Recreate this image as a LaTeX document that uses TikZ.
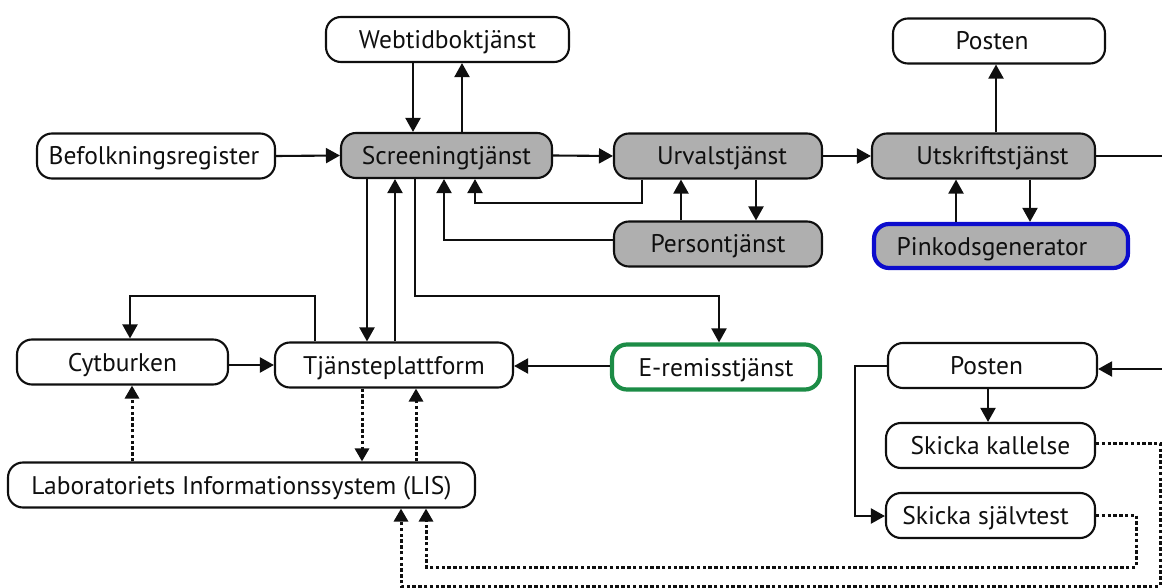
\documentclass[tikz,border=0pt]{standalone}
\usepackage{fontspec}
\setmainfont{PT Sans}
\usetikzlibrary{arrows.meta}

\definecolor{svcgray}{RGB}{175,175,175}
\definecolor{pinblue}{RGB}{12,12,205}
\definecolor{remgreen}{RGB}{28,140,70}
\definecolor{ink}{RGB}{15,15,15}

\tikzset{
  box/.style={draw=ink, line width=2.1pt, rounded corners=15pt,
    minimum height=45pt, inner sep=0pt, text=ink,
    text height=20pt, text depth=2pt,
    font=\fontsize{25.5}{28}\selectfont},
  svc/.style={box, fill=svcgray},
  link/.style={draw=ink, line width=2.1pt,
    -{Triangle[length=14pt,width=15pt]}},
  plain/.style={draw=ink, line width=2.1pt},
  lablink/.style={link, line width=3pt, dash pattern=on 3.4pt off 2.4pt,
    -{Triangle[length=13pt,width=14pt]}},
}

\begin{document}
\begin{tikzpicture}[x=1pt, y=-1pt]
  \useasboundingbox (0,0) rectangle (1162,588);

  % --- top row: screening chain ---
  \node[box, minimum width=243pt] (web)  at (447.5,39.5) {Webtidboktjänst};
  \node[box, minimum width=212pt] (postT) at (999,41) {\hspace*{-14pt}Posten};
  \node[box, minimum width=238pt] (bef)  at (156,156) {\hspace*{-4pt}Befolkningsregister};
  \node[svc, minimum width=211pt] (scr)  at (446.5,155.5) {Screeningtjänst};
  \node[svc, minimum width=208pt] (urv)  at (718,156) {\hspace*{8pt}Urvalstjänst};
  \node[svc, minimum width=223pt] (utsk) at (983.5,156) {\hspace*{18pt}Utskriftstjänst};
  \node[svc, minimum width=208pt] (pers) at (718,244) {Persontjänst};
  \node[svc, draw=pinblue, line width=4.2pt, minimum width=254pt, minimum height=44pt]
       (pink) at (1001,246) {\hspace*{-18pt}Pinkodsgenerator};

  % --- middle row ---
  \node[box, minimum width=211pt] (cyt)  at (122.5,362) {Cytburken};
  \node[box, minimum width=238pt] (tja)  at (394,365) {Tjänsteplattform};
  \node[box, draw=remgreen, line width=4.2pt, minimum width=208pt, minimum height=45pt]
       (erem) at (716,367) {E-remisstjänst};
  \node[box, minimum width=209pt] (postL) at (992.5,365.5) {\hspace*{-12pt}Posten};
  \node[box, minimum width=209pt] (kall) at (990.5,445.5) {Skicka kallelse};
  \node[box, minimum width=209pt] (selv) at (990.5,515.5) {\hspace*{-10pt}Skicka självtest};
  \node[box, minimum width=467pt] (lis)  at (241.5,485) {Laboratoriets Informationssystem (LIS)};

  % free ends at the right margin
  \coordinate (outR) at (1162,156);
  \coordinate (inR)  at (1162,369);

  % --- top row connectors ---
  \draw[link] (web.south -| 413,0) -- (scr.north -| 413,0);
  \draw[link] (scr.north -| 462,0) -- (web.south -| 462,0);
  \draw[link] (bef.east) -- (scr.west);
  \draw[link] (scr.east) -- (urv.west);
  \draw[link] (urv.east) -- (utsk.west);
  \draw[plain] (utsk.east) -- (outR);
  \draw[link] (utsk.north -| 996,0) -- (postT.south -| 996,0);
  \draw[link] (urv.south -| 642,0) |- (475,203) -- (scr.south -| 475,0);
  \draw[link] (pers.north -| 681,0) -- (urv.south -| 681,0);
  \draw[link] (urv.south -| 756,0) -- (pers.north -| 756,0);
  \draw[link] (pers.west |- 0,240) -| (scr.south -| 444,0);
  \draw[link] (pink.north -| 956,0) -- (utsk.south -| 956,0);
  \draw[link] (utsk.south -| 1030,0) -- (pink.north -| 1030,0);

  % --- screening to platform and referral ---
  \draw[link] (scr.south -| 367,0) -- (tja.north -| 367,0);
  \draw[link] (tja.north -| 395,0) -- (scr.south -| 395,0);
  \draw[link] (scr.south -| 415,0) |- (719,296) -- (erem.north -| 719,0);
  \draw[link] (tja.north -| 315,0) |- (130,296) -- (cyt.north -| 130,0);
  \draw[link] (cyt.east |- 0,365) -- (tja.west |- 0,365);
  \draw[link] (erem.west |- 0,366) -- (tja.east |- 0,366);

  % --- laboratory links ---
  \draw[lablink] (tja.south -| 362,0) -- (lis.north -| 362,0);
  \draw[lablink] (lis.north -| 416,0) -- (tja.south -| 416,0);
  \draw[lablink] (lis.north -| 132,0) -- (cyt.south -| 132,0);

  % --- mail flow ---
  \draw[link] (inR) -- (postL.east |- inR);
  \draw[link] (postL.south -| 988,0) -- (kall.north -| 988,0);
  \draw[link] (postL.west |- 0,366) -| (855,516) -- (selv.west |- 0,516);
  \draw[lablink] (kall.east |- 0,443) -| (1160,586) -| (lis.south -| 401,0);
  \draw[lablink] (selv.east |- 0,515) -| (1136,567) -| (lis.south -| 426,0);
\end{tikzpicture}
\end{document}
